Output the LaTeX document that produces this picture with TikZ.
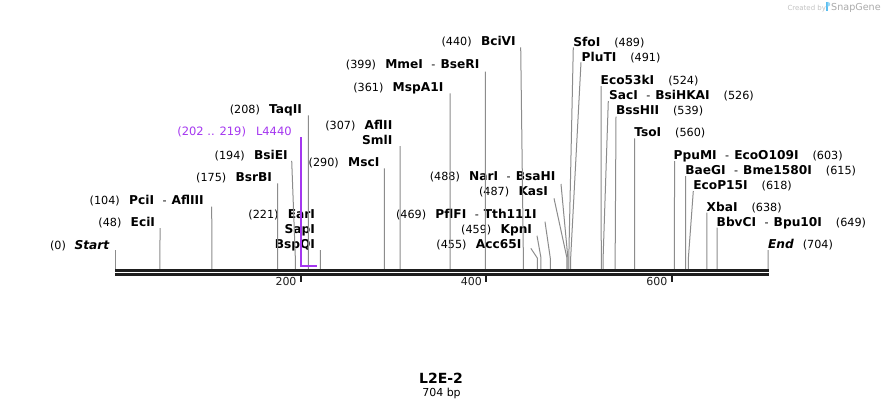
\documentclass[tikz,border=0pt]{standalone}
\usepackage{fontspec}
\setmainfont{DejaVu Sans}
\definecolor{conngray}{RGB}{140,140,140}
\definecolor{featpurple}{RGB}{165,55,240}
\definecolor{wmgray}{RGB}{195,195,195}
\definecolor{wmdark}{RGB}{170,170,170}
\definecolor{wmblue}{RGB}{90,190,240}
\definecolor{bbblack}{RGB}{30,30,30}
\newcommand{\enz}[1]{{\fontsize{12.2}{14}\selectfont\bfseries #1}}
\newcommand{\enzi}[1]{{\fontsize{12.2}{14}\selectfont\bfseries\itshape #1}}
\newcommand{\lgap}{\hspace{9.3pt}}
\newcommand{\rgap}{\hspace{14pt}}
\newcommand{\dsh}{\hspace{8.5pt}-\hspace{5pt}}
\newcommand{\mksite}[1]{\coordinate (s#1) at ({115.5+0.927*#1},269.3); \coordinate (k#1) at ({115.5+0.927*#1},258);}
\begin{document}
\begin{tikzpicture}[x=1pt,y=-1pt,
  lbl/.style={inner sep=0pt, outer sep=0pt, font=\fontsize{11.2}{13}\selectfont, text=black},
  lft/.style={lbl, anchor=base east},
  rgt/.style={lbl, anchor=base west},
  conn/.style={draw=conngray, line width=1pt},
  featline/.style={draw=featpurple, line width=1.6pt},
  bb/.style={draw=bbblack},
  tck/.style={draw=bbblack, line width=1.8pt},
  ticklbl/.style={inner sep=0pt, anchor=base east, font=\fontsize{11}{13}\selectfont, text=bbblack},
]
\useasboundingbox (0,0) rectangle (884,408);
\fill[white] (0,0) rectangle (884,408);

% sites on the backbone
\mksite{0}\mksite{48}\mksite{104}\mksite{175}\mksite{194}\mksite{208}\mksite{221}
\mksite{290}\mksite{307}\mksite{361}\mksite{399}\mksite{440}\mksite{455}\mksite{459}
\mksite{469}\mksite{487}\mksite{488}\mksite{489}\mksite{491}\mksite{524}\mksite{526}
\mksite{539}\mksite{560}\mksite{603}\mksite{615}\mksite{618}\mksite{638}\mksite{649}
\mksite{704}

% left-side labels
\node[lft] (start) at (109.3,249) {(0)\hspace{8.7pt}\enzi{Start}};
\node[lft] (ecii) at (155,226) {(48)\lgap\enz{EciI}};
\node[lft] (pcii) at (203.7,204) {(104)\lgap\enz{PciI}\dsh\enz{AflIII}};
\node[lft] (bsrbi) at (272,181.7) {(175)\lgap\enz{BsrBI}};
\node[lft] (bsiei) at (287.7,159.3) {(194)\lgap\enz{BsiEI}};
\node[lft, text=featpurple, font=\fontsize{11.5}{13}\selectfont] (l4440) at (291.7,135.7) {(202 .. 219)\hspace{10pt}L4440};
\node[lft] (taqii) at (302,113.5) {(208)\lgap\enz{TaqII}};
\node[lft] (eari) at (315,218.7) {(221)\lgap\enz{EarI}};
\node[lft] (sapi) at (315,233.5) {\enz{SapI}};
\node[lft] (bspqi) at (315,248.3) {\enz{BspQI}};
\node[lft] (msci) at (379.3,166) {(290)\lgap\enz{MscI}};
\node[lft] (aflii) at (392.3,129) {(307)\lgap\enz{AflII}};
\node[lft] (smli) at (392.3,144) {\enz{SmlI}};
\node[lft] (mspa1i) at (443.3,91.5) {(361)\lgap\enz{MspA1I}};
\node[lft] (mmei) at (479.3,68.7) {(399)\lgap\enz{MmeI}\dsh\enz{BseRI}};
\node[lft] (bcivi) at (515.7,45.5) {(440)\lgap\enz{BciVI}};
\node[lft] (nari) at (555.3,180.7) {(488)\lgap\enz{NarI}\dsh\enz{BsaHI}};
\node[lft] (kasi) at (548,195.7) {(487)\lgap\enz{KasI}};
\node[lft] (pflfi) at (536.7,218.3) {(469)\lgap\enz{PflFI}\dsh\enz{Tth111I}};
\node[lft] (kpni) at (532,233.3) {(459)\lgap\enz{KpnI}};
\node[lft] (acc65i) at (521.3,248.3) {(455)\lgap\enz{Acc65I}};

% right-side labels
\node[rgt] (sfoi) at (573.3,46) {\enz{SfoI}\rgap(489)};
\node[rgt] (pluti) at (581.7,61) {\enz{PluTI}\rgap(491)};
\node[rgt] (eco53ki) at (600.7,84.3) {\enz{Eco53kI}\rgap(524)};
\node[rgt] (saci) at (609,99.3) {\enz{SacI}\dsh\enz{BsiHKAI}\rgap(526)};
\node[rgt] (bsshii) at (616,114.3) {\enz{BssHII}\rgap(539)};
\node[rgt] (tsoi) at (634.3,136.7) {\enz{TsoI}\rgap(560)};
\node[rgt] (ppumi) at (673.7,159.3) {\enz{PpuMI}\dsh\enz{EcoO109I}\rgap(603)};
\node[rgt] (baegi) at (685.3,174.3) {\enz{BaeGI}\dsh\enz{Bme1580I}\rgap(615)};
\node[rgt] (ecop15i) at (693.3,189.3) {\enz{EcoP15I}\rgap(618)};
\node[rgt] (xbai) at (706.7,211.7) {\enz{XbaI}\rgap(638)};
\node[rgt] (bbvci) at (716.7,226.7) {\enz{BbvCI}\dsh\enz{Bpu10I}\rgap(649)};
\node[rgt] (endl) at (768.1,248.3) {\enzi{End}\hspace{9pt}(704)};

% connectors, left side
\draw[conn] (start.base east) ++(6.2,1) -- (k0) -- (s0);
\draw[conn] (ecii.base east) ++(5,2) -- (k48) -- (s48);
\draw[conn] (pcii.base east) ++(8,2.7) -- (k104) -- (s104);
\draw[conn] (bsrbi.base east) ++(5.6,1.6) -- (k175) -- (s175);
\draw[conn] (bsiei.base east) ++(4,1.5) -- (k194) -- (s194);
\draw[conn] (taqii.base east) ++(6.3,1.8) -- (k208) -- (s208);
\draw[conn] (bspqi.base east) ++(5.3,1.7) -- (k221) -- (s221);
\draw[conn] (msci.base east) ++(5.1,2.3) -- (k290) -- (s290);
\draw[conn] (smli.base east) ++(7.8,2) -- (k307) -- (s307);
\draw[conn] (mspa1i.base east) ++(6.8,1.8) -- (k361) -- (s361);
\draw[conn] (mmei.base east) ++(6.1,3) -- (k399) -- (s399);
\draw[conn] (bcivi.base east) ++(5,1.8) -- (k440) -- (s440);
\draw[conn] (nari.base east) ++(5.7,3.3) -- (k488) -- (s488);
\draw[conn] (kasi.base east) ++(6,2.6) -- (k487) -- (s487);
\draw[conn] (pflfi.base east) ++(8.3,3.4) -- (k469) -- (s469);
\draw[conn] (kpni.base east) ++(5,2.4) -- (k459) -- (s459);
\draw[conn] (acc65i.base east) ++(9.5,0) -- (k455) -- (s455);

% connectors, right side
\draw[conn] (sfoi.base west) ++(0,1.3) -- (k489) -- (s489);
\draw[conn] (pluti.base west) ++(-0.7,1.3) -- (k491) -- (s491);
\draw[conn] (eco53ki.base west) ++(0.5,1.7) -- (k524) -- (s524);
\draw[conn] (saci.base west) ++(-0.7,1.7) -- (k526) -- (s526);
\draw[conn] (bsshii.base west) ++(0,2.4) -- (k539) -- (s539);
\draw[conn] (tsoi.base west) ++(0.3,1.6) -- (k560) -- (s560);
\draw[conn] (ppumi.base west) ++(0.8,1.7) -- (k603) -- (s603);
\draw[conn] (baegi.base west) ++(0.3,1.7) -- (k615) -- (s615);
\draw[conn] (ecop15i.base west) ++(0,1.7) -- (k618) -- (s618);
\draw[conn] (xbai.base west) ++(0.2,1) -- (k638) -- (s638);
\draw[conn] (bbvci.base west) ++(0.4,1) -- (k649) -- (s649);
\draw[conn] (endl.base west) ++(0,1.7) -- (k704) -- (s704);

% feature L4440
\coordinate (fend) at (316.7,266);
\draw[featline] (l4440.base east) ++(9.1,1.6) |- (fend);

% backbone
\coordinate (bbA1) at (115.3,270.5);
\coordinate (bbA2) at (768.7,270.5);
\coordinate (bbB1) at (115.3,274.35);
\coordinate (bbB2) at (768.7,274.35);
\draw[bb, line width=2.4pt] (bbA1) -- (bbA2);
\draw[bb, line width=2.7pt] (bbB1) -- (bbB2);

% ticks
\coordinate (t200) at ({115.5+0.927*200},275.7);
\coordinate (t400) at ({115.5+0.927*400},275.7);
\coordinate (t600) at ({115.5+0.927*600},275.7);
\draw[tck] (t200) -- ++(0,6);
\draw[tck] (t400) -- ++(0,6);
\draw[tck] (t600) -- ++(0,6);
\node[ticklbl] (l200) at ([xshift=-4.2pt,yshift=-10pt]t200) {200};
\node[ticklbl] (l400) at ([xshift=-4.2pt,yshift=-10pt]t400) {400};
\node[ticklbl] (l600) at ([xshift=-4.2pt,yshift=-10pt]t600) {600};

% title
\node[inner sep=0pt, anchor=base, font=\fontsize{14}{16}\selectfont\bfseries] (title) at (441,383.5) {L2E-2};
\node[inner sep=0pt, anchor=base, font=\fontsize{11}{13}\selectfont] (len) at (441.5,396) {704 bp};

% watermark
\node[inner sep=0pt, anchor=base west, text=wmgray, font=\fontsize{7}{8}\selectfont] (wm1) at (787.3,10.3) {Created by};
\fill[wmblue] (825.9,1.8) rectangle (827.6,10.6);
\fill[wmblue!60] (827.6,1.8) .. controls (831,2.2) and (831,6.2) .. (827.6,6.8) -- cycle;
\node[inner sep=0pt, anchor=base west, text=wmdark, font=\fontsize{9.6}{11}\selectfont] (wm2) at (831,10.5) {SnapGene};
\end{tikzpicture}
\end{document}
